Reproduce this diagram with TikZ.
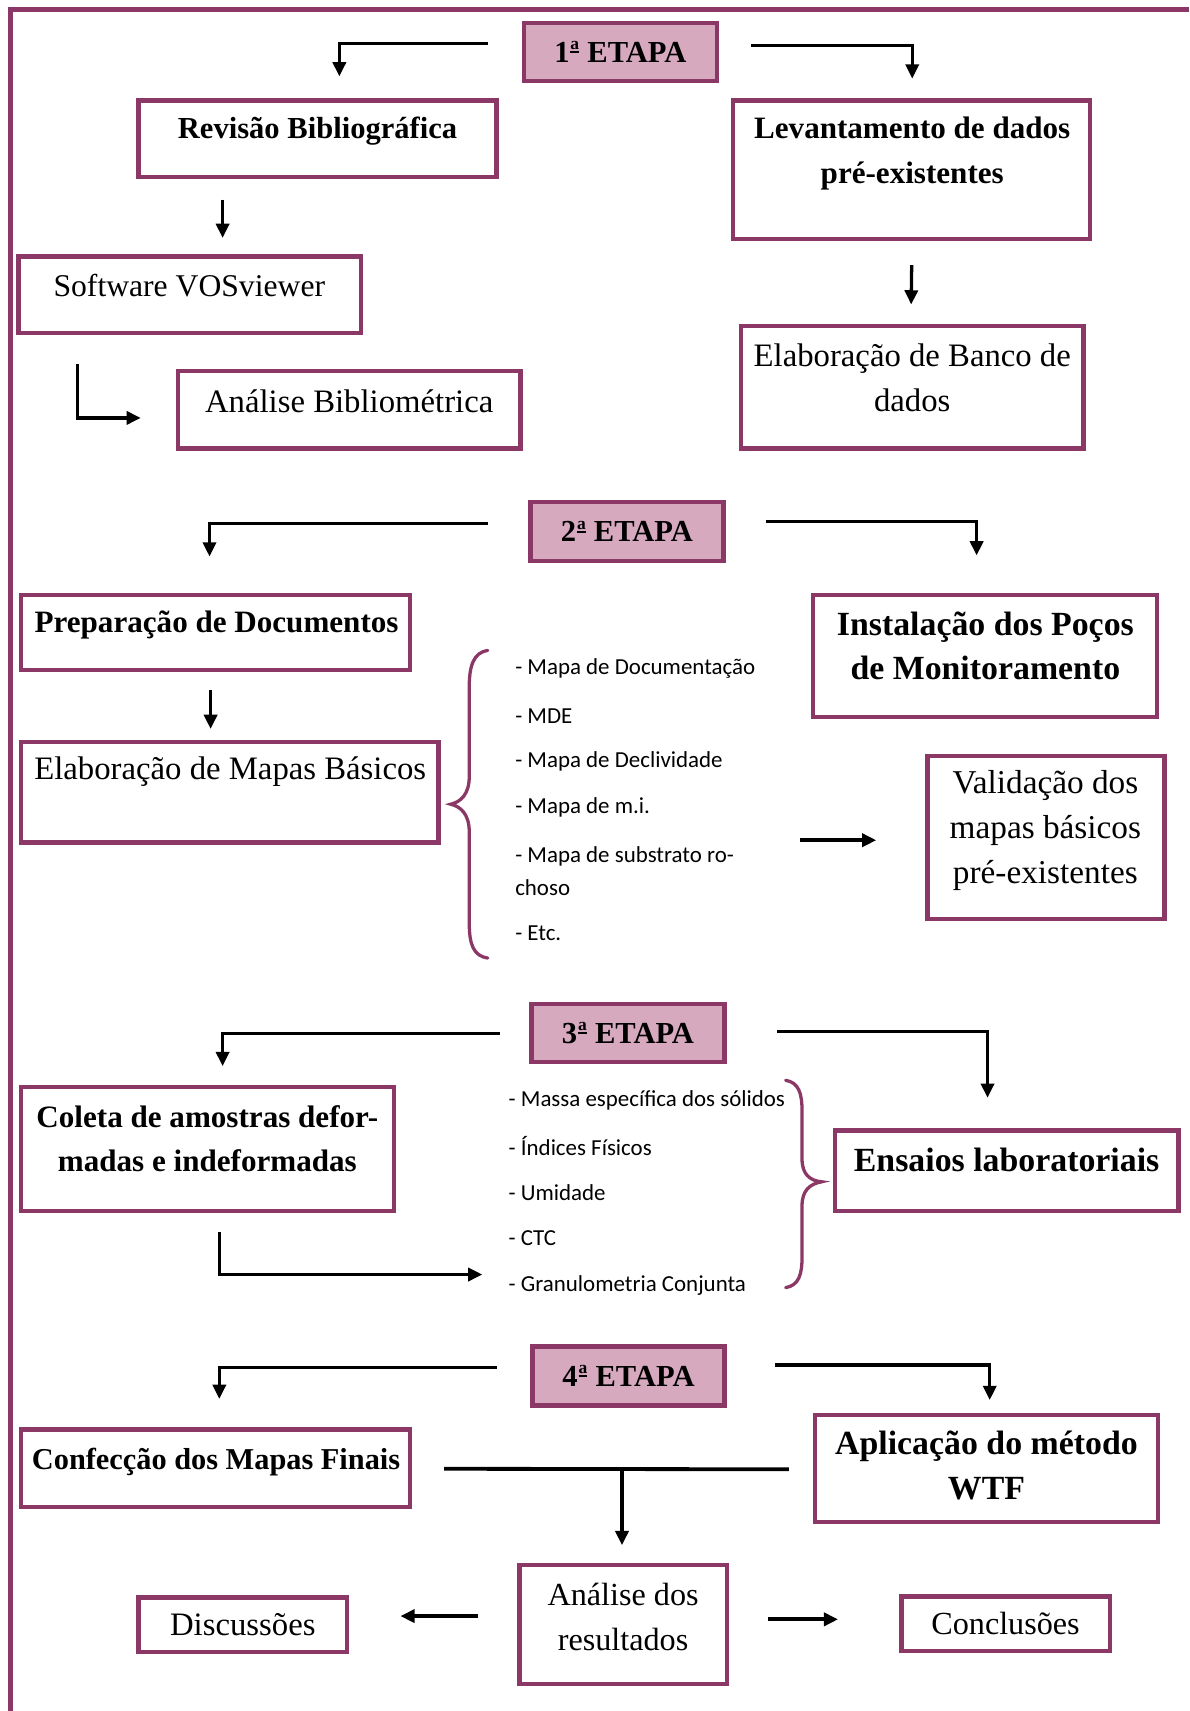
\documentclass[tikz,border=0pt]{standalone}
\usepackage{fontspec}
\setmainfont{Liberation Serif}
\newfontfamily\listfont{Carlito}
\usetikzlibrary{arrows.meta,calc}
\definecolor{plum}{RGB}{140,56,102}
\definecolor{stagefill}{RGB}{214,169,191}
% feminine ordinal: small raised a over a rule
\newcommand{\ordfem}{\kern0.8pt\raisebox{8.5pt}{\vbox{\hbox{\fontsize{16}{16}\selectfont\bfseries a}\kern1.3pt\hrule height 1.8pt}}\kern0.5pt}
\begin{document}
\begin{tikzpicture}[x=1pt,y=-1pt,
  box/.style={draw=plum,line width=4pt,rectangle,inner sep=0pt},
  stage/.style={box,fill=stagefill,font=\fontsize{28}{41}\selectfont\bfseries},
  tb/.style={font=\fontsize{#1}{41}\selectfont\bfseries,align=center,inner sep=0pt},
  tb/.default=28.5,
  tr/.style={font=\fontsize{#1}{41}\selectfont,align=center,inner sep=0pt},
  tr/.default=30,
  li/.style={font=\listfont\fontsize{21}{30}\selectfont,anchor=west,align=left,inner sep=0pt},
  arr/.style={line width=3pt,-{Triangle[length=13pt,width=12pt]}},
  ln/.style={line width=3pt},
  brc/.style={draw=plum,line width=3pt,line cap=round}
]
\useasboundingbox (0,0) rectangle (1090,1568);
\fill[white] (0,0) rectangle (1090,1568);

% outer frame
\draw[plum,line width=4.5pt] (1090,9) -- (10,9) -- (10,1568);

% ---------- stage 1 ----------
\node[stage,minimum width=177pt,minimum height=53pt] (e1) at (568.5,47.5) {1\ordfem{} ETAPA};
\node[box,minimum width=328pt,minimum height=70pt] (rev) at (291,127) {};
\node[tb=28] (revt) at (291,120) {Revisão Bibliográfica};
\node[box,minimum width=327pt,minimum height=127pt] (lev) at (835.5,155.5) {};
\node[tb] (levt) at (836,140.5) {Levantamento de dados\\pré-existentes};
\node[box,minimum width=314pt,minimum height=70pt] (sw) at (174,270) {};
\node[tr=29] (swt) at (173.5,262) {Software VOSviewer};
\node[box,minimum width=314pt,minimum height=71pt] (anb) at (320,375.5) {};
\node[tr] (anbt) at (320,368) {Análise Bibliométrica};
\node[box,minimum width=314pt,minimum height=112pt] (ebd) at (836,355) {};
\node[tr] (ebdt) at (836,346.5) {Elaboração de Banco de\\dados};

\draw[arr] ($(e1.west)+(-31,-7.5)$) -| ($(rev.north)+(20,-20)$);
\draw[arr] ($(e1.east)+(29,-5.5)$) -| ($(lev.north)+(0.5,-18)$);
\draw[arr] ($(rev.south)+(-87,19)$) -- ($(sw.north)+(30,-15)$);
\draw[arr] ($(sw.south)+(-103,27)$) |- ($(anb.west)+(-32,7.5)$);
\draw[arr] ($(lev.south)+(0,22)$) -- ($(ebd.north)+(-1,-18)$);

% ---------- stage 2 ----------
\node[stage,minimum width=177pt,minimum height=54pt] (e2) at (574.5,487) {2\ordfem{} ETAPA};
\node[box,minimum width=357pt,minimum height=69pt] (prep) at (197.5,579.5) {};
\node[tb] (prept) at (198.5,573) {Preparação de Documentos};
\node[box,minimum width=383pt,minimum height=92pt] (emb) at (210.5,726) {};
\node[tr] (embt) at (211,707) {Elaboração de Mapas Básicos};
\node[box,minimum width=315pt,minimum height=112pt] (inst) at (902.5,601) {};
\node[tb=31] (instt) at (903,592) {Instalação dos Poços\\de Monitoramento};
\node[box,minimum width=217pt,minimum height=149pt] (val) at (958.5,767.5) {};
\node[tr=30.5] (valt) at (958,761) {Validação dos\\mapas básicos\\pré-existentes};

\node[li] (m1) at (472,613) {- Mapa de Documentação};
\node[li] (m2) at (472,656) {- MDE};
\node[li] (m3) at (472,698) {- Mapa de Declividade};
\node[li] (m4) at (472,740) {- Mapa de m.i.};
\node[li] (m5) at (472,798) {- Mapa de substrato ro-\\choso};
\node[li] (m6) at (472,855) {- Etc.};

% left brace gathering the basic maps
\draw[brc] (447,596) .. controls (434,598) and (430,610) .. (430,630) -- (430,712)
  .. controls (430,728) and (422,735) .. (413,737)
  .. controls (422,739) and (430,746) .. (430,762) -- (430,845)
  .. controls (430,866) and (434,876) .. (447,878);

\coordinate (mapsout) at ($(val.west)+(-115,2.5)$);
\draw[arr] ($(e2.west)+(-37,-7)$) -| ($(prep.north)+(-5.5,-33)$);
\draw[arr] ($(e2.east)+(37,-9)$) -| ($(inst.north)+(-7.5,-34)$);
\draw[arr] ($(prep.south)+(-4.5,16)$) -- ($(emb.north)+(-17.5,-10)$);
\draw[arr,line width=3.5pt] (mapsout) -- ($(val.west)+(-45,2.5)$);

% ---------- stage 3 ----------
\node[stage,minimum width=177pt,minimum height=53pt] (e3) at (575.5,946.5) {3\ordfem{} ETAPA};
\node[box,minimum width=342pt,minimum height=114pt] (col) at (190,1053) {};
\node[tb] (colt) at (190,1043.5) {Coleta de amostras defor-\\madas e indeformadas};
\node[box,minimum width=315pt,minimum height=74pt] (ens) at (922.5,1073) {};
\node[tb=31] (enst) at (922.5,1063) {Ensaios laboratoriais};

\node[li] (n1) at (466,1008) {- Massa específica dos sólidos};
\node[li] (n2) at (466,1050) {- Índices Físicos};
\node[li] (n3) at (466,1093) {- Umidade};
\node[li] (n4) at (466,1135) {- CTC};
\node[li] (n5) at (466,1178) {- Granulometria Conjunta};

% right brace gathering the laboratory tests
\draw[brc] (720,990) .. controls (732,992) and (735,1002) .. (735,1018) -- (735,1062)
  .. controls (735,1076) and (742,1082) .. (753,1083)
  .. controls (742,1085) and (735,1091) .. (735,1105) -- (735,1152)
  .. controls (735,1168) and (732,1178) .. (720,1180);

\draw[arr] ($(e3.west)+(-27,0.5)$) -| ($(col.north)+(14,-17)$);
\draw[arr] ($(e3.east)+(46,-1.5)$) -| ($(ens.north)+(-17.5,-28)$);
\draw[arr] ($(col.south)+(11,17)$) |- ($(n5.west)+(-24,-10)$);

% ---------- stage 4 ----------
\node[stage,minimum width=176pt,minimum height=54pt] (e4) at (576,1261) {4\ordfem{} ETAPA};
\node[box,minimum width=357pt,minimum height=71pt] (conf) at (197.5,1345.5) {};
\node[tb=27.8] (conft) at (198,1340) {Confecção dos Mapas Finais};
\node[box,minimum width=314pt,minimum height=98pt] (apl) at (904,1346) {};
\node[tb=31] (aplt) at (904,1343) {Aplicação do método\\WTF};
\node[box,minimum width=190pt,minimum height=109pt] (ana) at (571,1488.5) {};
\node[tr=29.5] (anat) at (571,1482) {Análise dos\\resultados};
\node[box,tr,minimum width=191pt,minimum height=50pt] (dis) at (222.5,1489) {Discussões};
\node[box,tr=29.5,minimum width=191pt,minimum height=50pt] (con) at (921.5,1488) {Conclusões};

\draw[arr] ($(e4.west)+(-31,-8)$) -| ($(conf.north)+(3.5,-26)$);
\draw[arr] ($(e4.east)+(44,-10)$) -| ($(apl.north)+(3,-12)$);
\draw[ln,line width=3.5pt] ($(conf.east)+(29,0.5)$) -- ($(apl.west)+(-22,0.5)$);
\draw[arr] ($(ana.north)+(-1,-87)$) -- ($(ana.north)+(-1,-16)$);
\draw[arr,line width=3.5pt] ($(ana.west)+(-36,-7.5)$) -- ($(dis.east)+(47,-8)$);
\draw[arr,line width=3.5pt] ($(ana.east)+(36,-4.5)$) -- ($(con.west)+(-56,-4)$);
\end{tikzpicture}
\end{document}
